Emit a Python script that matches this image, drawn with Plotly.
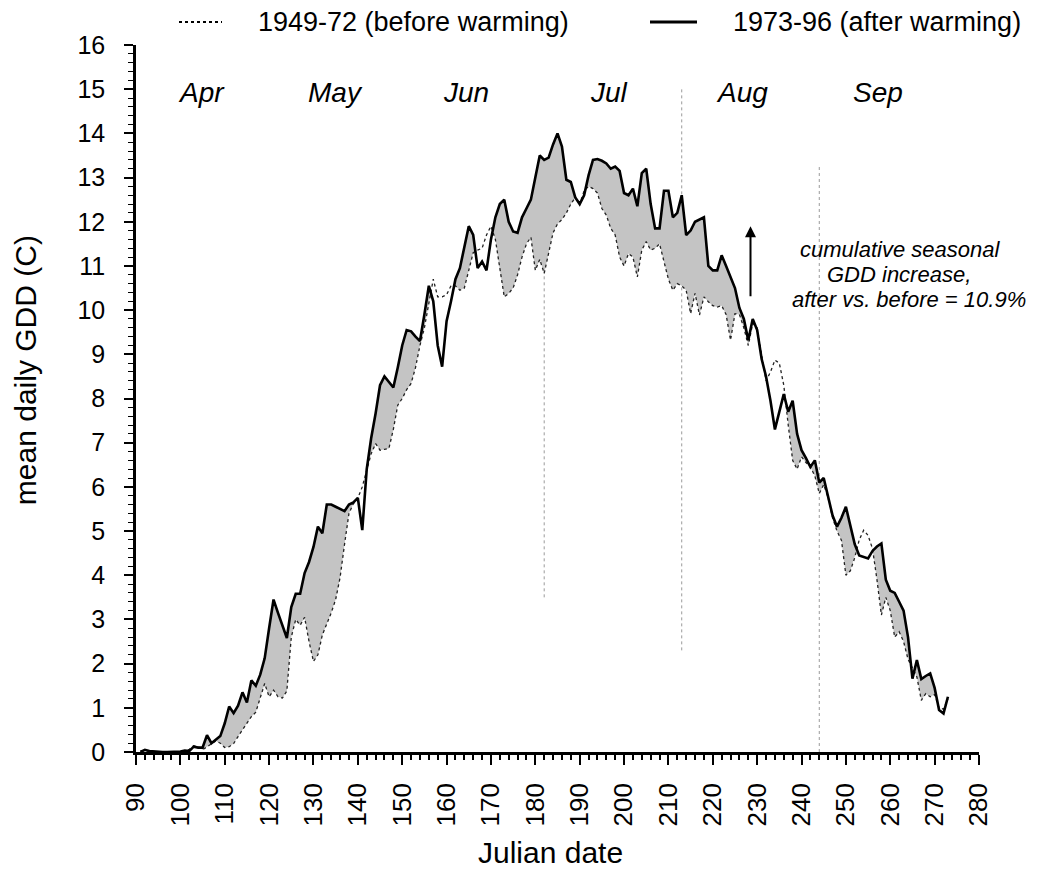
import numpy as np
import plotly.graph_objects as go

days = list(range(91, 274))

after_gdd = [
    0.00, 0.05, 0.02, 0.01, 0.00, 0.00, 0.00, 0.00, 0.00, 0.01,   # 91-100
    0.03, 0.02, 0.12, 0.10, 0.10, 0.38, 0.20, 0.28, 0.36, 0.65,   # 101-110
    1.03, 0.88, 1.05, 1.35, 1.12, 1.62, 1.50, 1.75, 2.12, 2.80,   # 111-120
    3.45, 3.15, 2.85, 2.58, 3.28, 3.58, 3.58, 4.05, 4.30, 4.64,   # 121-130
    5.10, 4.95, 5.60, 5.60, 5.55, 5.50, 5.45, 5.60, 5.65, 5.75,   # 131-140
    5.02, 6.40, 7.10, 7.66, 8.30, 8.50, 8.38, 8.25, 8.70, 9.20,   # 141-150
    9.55, 9.52, 9.40, 9.30, 9.90, 10.55, 10.20, 9.20, 8.72, 9.75, # 151-160
    10.20, 10.70, 10.95, 11.40, 11.90, 11.70, 10.95, 11.10, 10.90, 11.60,  # 161-170
    12.10, 12.40, 12.50, 12.00, 11.78, 11.75, 12.10, 12.30, 12.50, 13.00,  # 171-180
    13.50, 13.40, 13.45, 13.75, 14.00, 13.70, 12.95, 12.90, 12.55, 12.40,  # 181-190
    12.60, 13.05, 13.40, 13.42, 13.38, 13.32, 13.20, 13.25, 13.15, 12.65,  # 191-200
    12.60, 12.75, 12.35, 13.10, 13.20, 12.40, 11.85, 11.85, 12.70, 12.70,  # 201-210
    12.10, 12.20, 12.60, 11.70, 11.80, 12.00, 12.05, 12.10, 11.00, 10.90,  # 211-220
    10.90, 11.24, 11.00, 10.75, 10.50, 10.05, 9.80, 9.32, 9.80, 9.55,      # 221-230
    8.90, 8.50, 7.95, 7.30, 7.70, 8.10, 7.70, 7.95, 7.20, 6.83,            # 231-240
    6.65, 6.45, 6.60, 6.10, 6.20, 5.80, 5.35, 5.10, 5.30, 5.55,            # 241-250
    5.10, 4.70, 4.45, 4.42, 4.38, 4.55, 4.65, 4.72, 3.90, 3.65,            # 251-260
    3.60, 3.40, 3.20, 2.60, 1.66, 2.08, 1.65, 1.72, 1.78, 1.45,            # 261-270
    0.95, 0.87, 1.25,                                                      # 271-273
]

before_gdd = [
    0.02, 0.04, 0.02, 0.00, 0.00, 0.00, 0.00, 0.00, 0.00, 0.00,   # 91-100
    0.02, 0.06, 0.14, 0.12, 0.05, 0.12, 0.18, 0.25, 0.20, 0.10,   # 101-110
    0.12, 0.19, 0.35, 0.50, 0.65, 0.80, 0.90, 1.20, 1.55, 1.25,   # 111-120
    1.40, 1.25, 1.22, 1.38, 2.60, 3.00, 2.87, 3.05, 2.50, 2.05,   # 121-130
    2.20, 2.65, 2.90, 3.15, 3.45, 3.95, 4.70, 5.40, 5.62, 5.75,   # 131-140
    6.00, 6.35, 6.75, 6.98, 6.83, 6.85, 6.87, 7.30, 7.85, 8.00,   # 141-150
    8.20, 8.34, 8.70, 9.20, 9.60, 10.15, 10.70, 10.30, 10.30, 10.35,  # 151-160
    10.55, 10.55, 10.45, 10.50, 10.90, 11.30, 11.36, 11.40, 11.70, 11.90,  # 161-170
    11.60, 10.90, 10.30, 10.38, 10.50, 10.80, 11.20, 11.50, 11.65, 10.90,  # 171-180
    11.15, 10.83, 11.30, 11.75, 11.95, 12.05, 12.20, 12.40, 12.55, 12.40,  # 181-190
    12.70, 12.80, 12.75, 12.65, 12.30, 12.15, 11.85, 11.70, 11.20, 11.00,  # 191-200
    11.28, 11.20, 10.75, 11.36, 11.55, 11.36, 11.40, 11.50, 11.10, 10.70,  # 201-210
    10.45, 10.60, 10.55, 10.45, 9.92, 10.38, 9.89, 10.30, 10.19, 10.10,    # 211-220
    10.07, 10.10, 9.90, 9.32, 9.92, 9.90, 9.60, 9.20, 9.70, 9.60,          # 221-230
    9.00, 8.40, 8.60, 8.87, 8.80, 8.30, 7.40, 6.60, 6.40, 6.68,            # 231-240
    6.55, 6.45, 6.25, 5.85, 6.05, 5.75, 5.30, 5.00, 4.79, 4.00,            # 241-250
    4.10, 4.40, 4.80, 5.02, 4.90, 4.60, 3.90, 3.10, 3.50, 3.20,            # 251-260
    2.60, 2.72, 2.50, 2.10, 1.90, 1.70, 1.17, 1.32, 1.25, 1.30,            # 261-270
    1.00, 0.97, 1.20,                                                      # 271-273
]

month_names = ["Apr", "May", "Jun", "Jul", "Aug", "Sep"]
month_label_x = [104.7, 134.9, 164.4, 196.5, 226.5, 257.3]
month_bounds = [182, 213, 244]

legend_before = "1949-72 (before warming)"
legend_after = "1973-96 (after warming)"
note_lines = ["cumulative seasonal", "GDD increase,", "after vs. before = 10.9%"]

FONT = "Liberation Sans, Arial, Helvetica, sans-serif"

# --- fill polygon (only where after > before), with crossing points ---
x = np.array(days, dtype=float)
a = np.array(after_gdd)
b = np.array(before_gdd)
xf, lo, hi = [], [], []
for i in range(len(x)):
    if i > 0:
        d0 = a[i - 1] - b[i - 1]
        d1 = a[i] - b[i]
        if d0 * d1 < 0:
            t = d0 / (d0 - d1)
            xc = x[i - 1] + t * (x[i] - x[i - 1])
            yc = b[i - 1] + t * (b[i] - b[i - 1])
            xf.append(xc); lo.append(yc); hi.append(yc)
    xf.append(x[i]); lo.append(b[i]); hi.append(max(a[i], b[i]))

fig = go.Figure()
fig.add_trace(go.Scatter(x=xf, y=lo, mode="lines", line=dict(width=0, color="rgba(0,0,0,0)"),
                         showlegend=False, hoverinfo="skip"))
fig.add_trace(go.Scatter(x=xf, y=hi, mode="lines", line=dict(width=0, color="rgba(0,0,0,0)"),
                         fill="tonexty", fillcolor="#c4c4c4", showlegend=False, hoverinfo="skip"))
fig.add_trace(go.Scatter(x=days, y=before_gdd, mode="lines", name=legend_before,
                         line=dict(color="#222", width=1.3, dash="dot"), showlegend=False))
fig.add_trace(go.Scatter(x=days, y=after_gdd, mode="lines", name=legend_after,
                         line=dict(color="#000", width=2.6), showlegend=False))

# month boundary dotted lines
for mb, (y0, y1) in zip(month_bounds, [(3.5, 12.9), (2.3, 15.0), (0.0, 13.3)]):
    fig.add_shape(type="line", x0=mb, x1=mb, y0=y0, y1=y1, xref="x", yref="y",
                  line=dict(color="#9a9a9a", width=1, dash="dot"), layer="below")

# month labels
for name, mx in zip(month_names, month_label_x):
    fig.add_annotation(x=mx, y=14.93, xref="x", yref="y", text=f"<i>{name}</i>",
                       showarrow=False, font=dict(family=FONT, size=28, color="#000"))

# arrow
fig.add_annotation(x=228.5, y=11.9, ax=228.5, ay=10.28, xref="x", yref="y",
                   axref="x", ayref="y", text="", showarrow=True, arrowhead=2,
                   arrowsize=1.1, arrowwidth=2, arrowcolor="#000")

# note, one annotation per line for tight line spacing
for line, ny, nx in zip(note_lines, [11.38, 10.81, 10.24], [262.3, 262.0, 264.3]):
    fig.add_annotation(x=nx, y=ny, xref="x", yref="y", text=f"<i>{line}</i>",
                       showarrow=False, font=dict(family=FONT, size=22, color="#000"))

# custom legend
def px2paper_x(px):
    return (px - 136) / 843.0

def py2paper_y(py):
    return (751.7 - py) / 706.7

ly = py2paper_y(22)
fig.add_shape(type="line", xref="paper", yref="paper", x0=px2paper_x(179), x1=px2paper_x(222),
              y0=ly, y1=ly, line=dict(color="#000", width=2.2, dash="dot"))
fig.add_shape(type="line", xref="paper", yref="paper", x0=px2paper_x(650), x1=px2paper_x(697),
              y0=ly, y1=ly, line=dict(color="#000", width=3))
fig.add_annotation(xref="paper", yref="paper", x=px2paper_x(256), y=ly, xanchor="left",
                   yanchor="middle", text=legend_before, showarrow=False,
                   font=dict(family=FONT, size=27, color="#000"))
fig.add_annotation(xref="paper", yref="paper", x=px2paper_x(731), y=ly, xanchor="left",
                   yanchor="middle", text=legend_after, showarrow=False,
                   font=dict(family=FONT, size=27, color="#000"))

# axis titles as annotations for exact placement
fig.add_annotation(xref="paper", yref="paper", x=px2paper_x(25), y=py2paper_y(370),
                   text="mean daily GDD (C)", textangle=-90, showarrow=False,
                   xanchor="center", yanchor="middle",
                   font=dict(family=FONT, size=30, color="#000"))
fig.add_annotation(xref="paper", yref="paper", x=px2paper_x(550), y=py2paper_y(852),
                   text="Julian date", showarrow=False, xanchor="center", yanchor="middle",
                   font=dict(family=FONT, size=30, color="#000"))

fig.update_layout(
    width=1049, height=873,
    margin=dict(l=136, r=70, t=45, b=121),
    plot_bgcolor="white", paper_bgcolor="white",
    font=dict(family=FONT, color="#000"),
)
fig.update_xaxes(
    range=[90, 280], tickmode="linear", tick0=90, dtick=10, tickangle=-90,
    ticks="outside", ticklen=10, tickwidth=2, tickcolor="#000",
    minor=dict(ticks="outside", dtick=2, ticklen=5, tickwidth=1.5, tickcolor="#000"),
    showline=True, linewidth=2.5, linecolor="#000", showgrid=False, zeroline=False,
    tickfont=dict(family=FONT, size=26, color="#000"), ticklabelstandoff=8,
)
fig.update_yaxes(
    range=[0, 16], tickmode="linear", tick0=0, dtick=1,
    ticks="outside", ticklen=9, tickwidth=2, tickcolor="#000",
    minor=dict(ticks="outside", dtick=0.2, ticklen=5, tickwidth=1.2, tickcolor="#000"),
    showline=True, linewidth=2.5, linecolor="#000", showgrid=False, zeroline=False,
    tickfont=dict(family=FONT, size=25, color="#000"), ticklabelstandoff=14,
)

fig.write_html("out.html")
